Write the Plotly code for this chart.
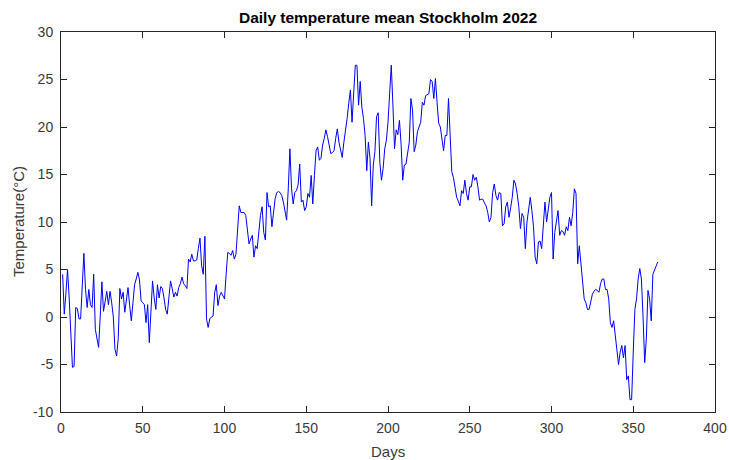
import numpy as np
import plotly.graph_objects as go

# Daily mean temperature, Stockholm 2022 (deg C), split by day ranges
temp_days_001_090 = [
    4.5, 0.3, 2.5, 5.0, 2.0, -2.0, -5.3, -5.2, 1.0, 0.9,
    -0.2, -0.2, 3.0, 6.7, 2.9, 1.0, 2.9, 1.3, 1.0, 4.5,
    -1.3, -2.5, -3.2, 0.1, 3.7, 0.6, 1.8, 2.7, 1.3, 2.7,
    1.5, 0.0, -3.4, -4.1, -2.3, 3.0, 1.9, 2.6, 0.5, 1.8,
    3.1, 1.2, -0.4, 1.5, 3.4, 4.0, 4.7, 3.9, 1.7, 1.5,
    1.3, -0.6, 1.3, -2.7, 0.5, 3.8, 2.0, 0.8, 3.4, 2.0,
    3.2, 3.0, 2.0, 0.8, 0.3, 2.0, 3.8, 3.0, 2.1, 2.6,
    2.2, 3.1, 3.5, 4.2, 3.5, 3.3, 3.0, 6.1, 5.8, 6.6,
    5.9, 5.9, 6.0, 7.2, 8.3, 5.4, 4.5, 8.5, -0.2, -1.1,
]
temp_days_091_180 = [
    -0.2, 0.0, 0.1, 2.6, 3.4, 1.2, 2.2, 2.6, 2.3, 1.9,
    4.5, 6.8, 6.7, 6.5, 7.0, 6.1, 6.6, 9.0, 11.7, 11.0,
    11.0, 11.0, 10.7, 9.0, 7.7, 8.2, 8.6, 6.3, 7.5, 7.2,
    9.3, 10.7, 11.6, 8.9, 8.1, 13.1, 11.6, 11.7, 9.5, 11.4,
    12.5, 13.1, 13.2, 13.1, 12.8, 12.1, 11.0, 10.2, 13.5, 17.7,
    13.5, 11.9, 13.1, 13.3, 13.9, 16.1, 12.1, 12.3, 11.2, 11.6,
    13.0, 12.6, 14.9, 11.9, 14.9, 17.5, 17.9, 16.5, 16.7, 18.1,
    18.8, 19.7, 19.0, 18.0, 17.2, 17.3, 17.5, 18.8, 19.8, 18.4,
    17.5, 16.8, 18.4, 19.5, 20.9, 22.5, 23.9, 20.5, 24.0, 26.5,
]
temp_days_181_270 = [
    26.5, 22.3, 24.8, 22.1, 20.9, 19.1, 15.4, 18.4, 16.7, 11.7,
    16.0, 17.4, 21.1, 21.5, 16.3, 14.4, 15.6, 17.7, 18.6, 20.5,
    23.5, 26.5, 22.3, 17.7, 19.7, 19.2, 20.7, 18.2, 14.4, 16.0,
    16.1, 17.3, 18.4, 23.0, 21.8, 17.4, 18.1, 19.5, 20.0, 20.5,
    22.6, 22.3, 23.3, 23.4, 23.5, 25.0, 24.8, 23.0, 25.1, 22.6,
    20.4, 20.0, 18.8, 17.5, 19.1, 19.1, 23.0, 18.4, 15.3, 14.7,
    13.7, 12.6, 12.2, 11.7, 13.3, 13.0, 14.4, 13.0, 12.3, 13.7,
    13.7, 15.0, 14.4, 14.7, 13.7, 12.3, 12.4, 12.4, 12.0, 11.7,
    11.0, 10.0, 10.5, 13.1, 14.0, 12.8, 12.3, 13.1, 13.0, 9.6,
]
temp_days_271_365 = [
    9.8, 11.6, 12.1, 10.5, 11.5, 12.6, 14.4, 14.0, 13.0, 11.6,
    9.3, 10.9, 10.5, 7.2, 10.0, 11.6, 12.6, 11.2, 9.5, 6.3,
    5.6, 7.9, 8.0, 7.2, 9.5, 12.1, 10.0, 11.2, 12.6, 13.1,
    6.1, 8.9, 10.0, 11.2, 8.6, 9.1, 9.0, 8.6, 9.5, 9.1,
    10.5, 9.6, 11.0, 13.5, 13.0, 5.6, 7.5, 5.4, 3.6, 1.9,
    1.5, 0.8, 0.8, 1.5, 2.4, 2.7, 2.9, 2.8, 2.6, 3.5,
    4.0, 4.0, 2.9, 2.9, 1.9, -0.6, -1.1, -0.4, -2.0, -3.7,
    -5.0, -3.7, -3.0, -4.3, -3.0, -6.6, -6.2, -8.7, -8.7, -3.7,
    0.8, 1.9, 4.0, 5.1, 4.0, 0.0, -4.8, -2.3, 2.8, 1.9,
    -0.4, 4.5, 4.9, 5.3, 5.8,
]

x_ticks = [0, 50, 100, 150, 200, 250, 300, 350, 400]
y_ticks = [-10, -5, 0, 5, 10, 15, 20, 25, 30]

temps = temp_days_001_090 + temp_days_091_180 + temp_days_181_270 + temp_days_271_365
days = np.arange(1, len(temps) + 1)

axis_color = "#262626"
text_color = "#3a3a3a"
font_family = "Liberation Sans, Arial, Helvetica, sans-serif"

fig = go.Figure(
    go.Scatter(
        x=days,
        y=temps,
        mode="lines",
        line=dict(color="#0000ff", width=1),
        hoverinfo="x+y",
    )
)

common_axis = dict(
    showline=True,
    linecolor=axis_color,
    linewidth=1,
    mirror="ticks",
    ticks="inside",
    ticklen=6,
    tickwidth=1,
    tickcolor=axis_color,
    showgrid=False,
    zeroline=False,
    automargin=False,
    tickfont=dict(family=font_family, size=14, color=text_color),
)

fig.update_xaxes(
    range=[0, 400],
    tickvals=x_ticks,
    ticktext=[str(v) for v in x_ticks],
    ticklabelstandoff=3,
    **common_axis,
)
fig.update_yaxes(
    range=[-10, 30],
    tickvals=y_ticks,
    ticktext=[str(v) for v in y_ticks],
    ticklabelstandoff=4,
    **common_axis,
)

# Axis titles placed relative to the plotting box
fig.add_annotation(
    text="Days", x=0.5, y=0, xref="paper", yref="paper",
    xanchor="center", yanchor="middle", yshift=-39, showarrow=False,
    font=dict(family=font_family, size=15, color=text_color),
)
fig.add_annotation(
    text="Temperature(°C)", x=0, y=0.5, xref="paper", yref="paper",
    xanchor="center", yanchor="middle", xshift=-43, textangle=-90, showarrow=False,
    font=dict(family=font_family, size=15, color=text_color),
)

fig.update_layout(
    width=729,
    height=460,
    margin=dict(l=61, r=14, t=32, b=48),
    paper_bgcolor="white",
    plot_bgcolor="white",
    showlegend=False,
    title=dict(
        text="<b>Daily temperature mean Stockholm 2022</b>",
        x=(61 + 715) / 2 / 729,
        xanchor="center",
        y=1 - 18 / 460,
        yanchor="middle",
        yref="container",
        font=dict(family=font_family, size=15.5, color="#000000"),
    ),
)

fig.write_html("out.html")
